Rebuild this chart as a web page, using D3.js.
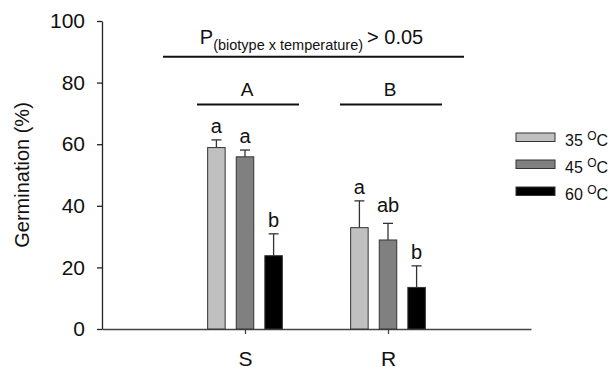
<!DOCTYPE html>
<html>
<head>
<meta charset="utf-8">
<script src="https://cdn.jsdelivr.net/npm/d3@7"></script>
<style>
  html, body { margin: 0; padding: 0; background: #fff; }
  svg { display: block; font-family: "Liberation Sans", Arial, sans-serif; }
</style>
</head>
<body>
<svg id="chart" width="610" height="367"></svg>
<script>
// ---- data ----
const biotypes = ["S", "R"];
const temps = ["35", "45", "60"];
const meansS = [58.9, 55.9, 23.8];
const meansR = [32.9, 28.9, 13.5];
const errS = [2.5, 2.2, 7.1];
const errR = [8.7, 5.4, 7.0];
const lettersS = ["a", "a", "b"];
const lettersR = ["a", "ab", "b"];
const groupLetters = ["A", "B"];
const yTicks = [0, 20, 40, 60, 80, 100];
const colors = ["#c0c0c0", "#808080", "#000000"];

const rows = [];
biotypes.forEach((b, i) => {
  const m = i === 0 ? meansS : meansR;
  const e = i === 0 ? errS : errR;
  const l = i === 0 ? lettersS : lettersR;
  temps.forEach((t, j) => rows.push({ biotype: b, temp: t, mean: m[j], err: e[j], letter: l[j], color: colors[j] }));
});

const svg = d3.select("#chart");
const mLeft = 102, mRight = 531, mTop = 21, mBottom = 329;

const y = d3.scaleLinear().domain([0, 100]).range([mBottom, mTop]);
const x0 = d3.scalePoint().domain(biotypes).range([mLeft, mRight]).padding(1);
const x1 = d3.scaleBand().domain(temps).range([-37.35, 37.35]).paddingInner(0.388);

// y axis
const yAxis = svg.append("g")
  .attr("transform", `translate(${mLeft},0)`)
  .call(d3.axisLeft(y).tickValues(yTicks).tickSize(5).tickSizeOuter(0).tickPadding(12));
yAxis.select(".domain").attr("stroke", "#222").attr("stroke-width", 1.3);
yAxis.selectAll(".tick line").attr("stroke", "#222").attr("stroke-width", 1.3);
yAxis.selectAll("text").attr("font-size", 21).attr("fill", "#111")
  .attr("font-family", "Liberation Sans, Arial, sans-serif");

// x axis
const xAxis = svg.append("g")
  .attr("transform", `translate(0,${mBottom})`)
  .call(d3.axisBottom(x0).tickSize(5).tickSizeOuter(0).tickPadding(17));
xAxis.select(".domain").attr("stroke", "#444").attr("stroke-width", 1.6);
xAxis.selectAll(".tick line").attr("stroke", "#444").attr("stroke-width", 1.3);
xAxis.selectAll("text").attr("font-size", 21).attr("fill", "#111")
  .attr("font-family", "Liberation Sans, Arial, sans-serif");

// y label
svg.append("text")
  .attr("transform", `translate(29,${(mTop + mBottom) / 2}) rotate(-90)`)
  .attr("text-anchor", "middle")
  .attr("font-size", 20)
  .attr("fill", "#111")
  .text("Germination (%)");

// bars
const g = svg.append("g");
g.selectAll("rect.bar").data(rows).join("rect")
  .attr("class", "bar")
  .attr("x", d => x0(d.biotype) + x1(d.temp))
  .attr("width", x1.bandwidth())
  .attr("y", d => y(d.mean))
  .attr("height", d => y(0) - y(d.mean))
  .attr("fill", d => d.color)
  .attr("stroke", "#333")
  .attr("stroke-width", 1);

// error bars (upper only)
const cx = d => x0(d.biotype) + x1(d.temp) + x1.bandwidth() / 2;
g.selectAll("line.err").data(rows).join("line")
  .attr("class", "err")
  .attr("x1", cx).attr("x2", cx)
  .attr("y1", d => y(d.mean)).attr("y2", d => y(d.mean + d.err))
  .attr("stroke", "#333").attr("stroke-width", 1.3);
g.selectAll("line.cap").data(rows).join("line")
  .attr("class", "cap")
  .attr("x1", d => cx(d) - 5).attr("x2", d => cx(d) + 5)
  .attr("y1", d => y(d.mean + d.err)).attr("y2", d => y(d.mean + d.err))
  .attr("stroke", "#333").attr("stroke-width", 1.3);

// letters
g.selectAll("text.let").data(rows).join("text")
  .attr("class", "let")
  .attr("x", cx)
  .attr("y", d => y(d.mean + d.err) - (d.letter === "ab" ? 11 : 7))
  .attr("text-anchor", "middle")
  .attr("font-size", 20)
  .attr("fill", "#111")
  .text(d => d.letter);

// group letters & lines
biotypes.forEach((b, i) => {
  const c = x0(b);
  svg.append("line")
    .attr("x1", c - 48).attr("x2", c + 54)
    .attr("y1", y(72.9)).attr("y2", y(72.9))
    .attr("stroke", "#111").attr("stroke-width", 2);
  svg.append("text")
    .attr("x", c + 2).attr("y", y(75.8))
    .attr("text-anchor", "middle")
    .attr("font-size", 19)
    .attr("fill", "#111")
    .text(groupLetters[i]);
});

// interaction line & text
const cS = x0("S"), cR = x0("R");
svg.append("line")
  .attr("x1", cS - 82).attr("x2", cR + 76)
  .attr("y1", y(88.4)).attr("y2", y(88.4))
  .attr("stroke", "#111").attr("stroke-width", 2);
const t = svg.append("text")
  .attr("x", (cS + cR) / 2 - 5).attr("y", y(92.5))
  .attr("text-anchor", "middle")
  .attr("fill", "#111")
  .attr("font-size", 20);
t.append("tspan").text("P");
t.append("tspan").attr("font-size", 14.5).attr("dy", 6).text("(biotype x temperature)");
t.append("tspan").attr("dy", -6).attr("dx", 4).text("> 0.05");

// legend
const leg = svg.append("g").attr("transform", "translate(516,133)");
temps.forEach((tp, j) => {
  const row = leg.append("g").attr("transform", `translate(0,${j * 27})`);
  row.append("rect").attr("width", 39).attr("height", 8.5)
    .attr("fill", colors[j]).attr("stroke", "#333").attr("stroke-width", 1);
  const tx = row.append("text").attr("x", 49).attr("y", 13)
    .attr("font-size", 16).attr("fill", "#111");
  tx.append("tspan").text(tp + " ");
  tx.append("tspan").attr("font-size", 12).attr("dy", -6).text("O");
  tx.append("tspan").attr("dy", 6).text("C");
});
</script>
</body>
</html>
